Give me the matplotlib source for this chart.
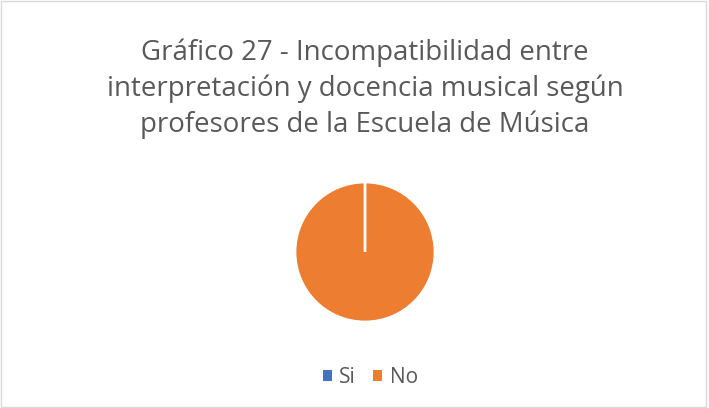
import matplotlib.pyplot as plt
from matplotlib.patches import Patch, Rectangle

categorias = ["Si", "No"]
valores = [0, 100]
colores = ["#4472c4", "#ed7d31"]
titulo = "Gráfico 27 - Incompatibilidad entre\ninterpretación y docencia musical según\nprofesores de la Escuela de Música"

plt.rcParams['font.family'] = ['Open Sans', 'DejaVu Sans']

fig = plt.figure(figsize=(7.09, 4.08), dpi=100)
fig.patches.append(Rectangle((0.002, 0.003), 0.994, 0.994, transform=fig.transFigure,
                             fill=False, edgecolor="#d9d9d9", linewidth=1))

fig.text(0.515, 0.676, titulo, ha="center", va="baseline", fontsize=19.9,
         color="#595959", linespacing=1.36)

ax = fig.add_axes([295/709, 86/408, 140/709, 140/408])
wedges, _ = ax.pie(valores, colors=colores, startangle=90, counterclock=False,
                   wedgeprops=dict(edgecolor="white", linewidth=2))
wedges[0].set_zorder(5)
ax.set_xlim(-1, 1)
ax.set_ylim(-1, 1)
ax.set_aspect("equal")

handles = [Patch(facecolor=c, edgecolor="none") for c in colores]
fig.legend(handles, categorias, loc="center", bbox_to_anchor=(0.522, 0.074), ncol=2,
           frameon=False, fontsize=15, handlelength=0.43, handleheight=0.43,
           handletextpad=0.34, columnspacing=0.87, labelcolor="#595959")

fig.savefig("out.png", dpi=100)
